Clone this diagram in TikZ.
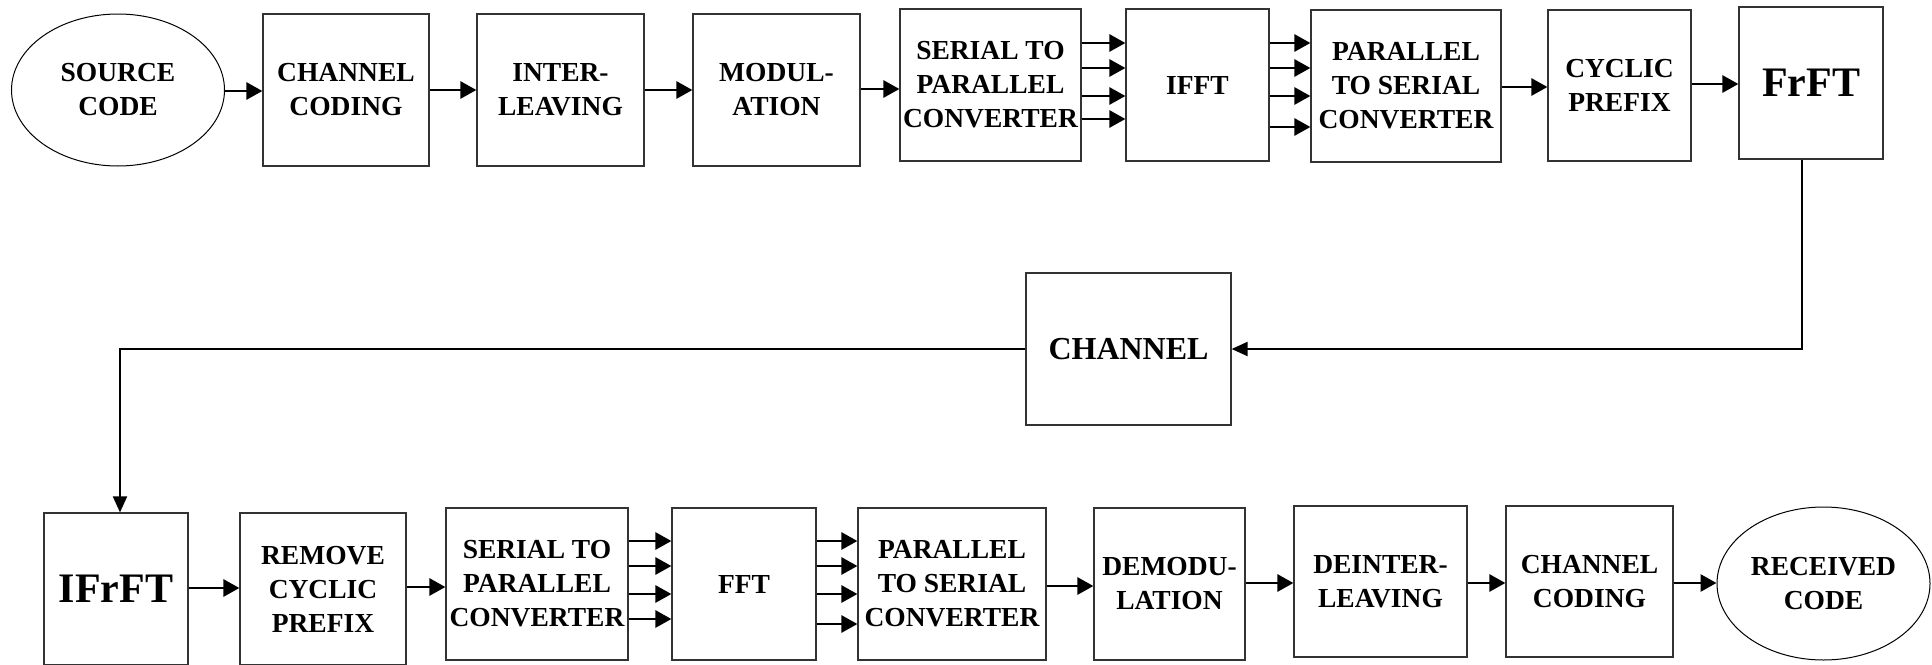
\documentclass[tikz,border=0pt]{standalone}
\usepackage{fontspec}
\setmainfont{Liberation Serif}
\usetikzlibrary{arrows.meta,shapes.geometric}
\begin{document}
\begin{tikzpicture}[x=0.5pt,y=-0.5pt,
  txt/.style={font=\fontsize{13.75}{17}\selectfont\bfseries},
  box/.style={txt,draw=black!80,line width=0.6pt,rectangle,minimum height=76pt,inner sep=1pt,align=center},
  oval/.style={txt,draw,ellipse,line width=0.5pt,inner sep=1pt,align=center,minimum width=106.5pt,minimum height=76pt},
  arr/.style={line width=1.4pt,-{Triangle[length=8pt,width=8.5pt]}},
  tarr/.style={line width=1pt,-{Triangle[length=8pt,width=7pt]}}]
\useasboundingbox (0,0) rectangle (1932,664);
% top row
\node[oval] (src) at (118,90) {SOURCE\\CODE};
\node[box,minimum width=83pt] (cc1) at (346,90) {CHANNEL\\CODING};
\node[box,minimum width=83.5pt] (il) at (560.5,90) {INTER-\\LEAVING};
\node[box,minimum width=83.5pt] (mod) at (776.5,90) {MODUL-\\ATION};
\node[box,minimum width=90.5pt] (sp1) at (990.5,85) {SERIAL TO\\PARALLEL\\CONVERTER};
\node[box,minimum width=71.5pt] (ifft) at (1197.5,85) {IFFT};
\node[box,minimum width=95pt] (ps1) at (1406,86) {PARALLEL\\TO SERIAL\\CONVERTER};
\node[box,minimum width=71.5pt,minimum height=75.5pt] (cp) at (1619.5,85.5) {CYCLIC\\PREFIX};
\node[box,minimum width=72pt,font=\fontsize{21}{25}\selectfont\bfseries] (frft) at (1811,83) {FrFT};
% middle
\node[box,minimum width=102.5pt,font=\fontsize{16}{19}\selectfont\bfseries] (chan) at (1128.5,349) {CHANNEL};
% bottom row
\node[box,minimum width=72pt,font=\fontsize{21}{25}\selectfont\bfseries] (ifrft) at (116,589) {IFrFT};
\node[box,minimum width=83pt] (rcp) at (323,589) {REMOVE\\CYCLIC\\PREFIX};
\node[box,minimum width=91pt] (sp2) at (537,584) {SERIAL TO\\PARALLEL\\CONVERTER};
\node[box,minimum width=72pt] (fft) at (744,584) {FFT};
\node[box,minimum width=94pt] (ps2) at (952,584) {PARALLEL\\TO SERIAL\\CONVERTER};
\node[box,minimum width=75.5pt] (dem) at (1169.5,584) {DEMODU-\\LATION};
\node[box,minimum width=86.5pt,minimum height=75.5pt] (dil) at (1380.5,581.5) {DEINTER-\\LEAVING};
\node[box,minimum width=83.5pt,minimum height=75.5pt] (cc2) at (1589.5,581.5) {CHANNEL\\CODING};
\node[oval,minimum height=76.5pt] (rec) at (1823.5,583.5) {RECEIVED\\CODE};
% top arrows
\draw[arr] (src.east |- 0,91) -- (cc1.west |- 0,91);
\draw[arr] (cc1.east |- 0,90) -- (il.west |- 0,90);
\draw[arr] (il.east |- 0,90) -- (mod.west |- 0,90);
\draw[arr] (mod.east |- 0,89) -- (sp1.west |- 0,89);
\foreach \yy in {43,68,96,119} \draw[arr] (sp1.east |- 0,\yy) -- (ifft.west |- 0,\yy);
\foreach \yy in {43,68,96,127} \draw[arr] (ifft.east |- 0,\yy) -- (ps1.west |- 0,\yy);
\draw[arr] (ps1.east |- 0,87) -- (cp.west |- 0,87);
\draw[arr] (cp.east |- 0,84) -- (frft.west |- 0,84);
% feedback path
\coordinate (cR) at (1802,349);
\coordinate (cL) at (120,349);
\draw[tarr] (frft.south -| cR) |- (chan.east);
\draw[tarr] (chan.west) -| (ifrft.north -| cL);
% bottom arrows
\draw[arr] (ifrft.east |- 0,588) -- (rcp.west |- 0,588);
\draw[arr] (rcp.east |- 0,587) -- (sp2.west |- 0,587);
\foreach \yy in {541,566,594,619} \draw[arr] (sp2.east |- 0,\yy) -- (fft.west |- 0,\yy);
\foreach \yy in {541,566,594,624} \draw[arr] (fft.east |- 0,\yy) -- (ps2.west |- 0,\yy);
\draw[arr] (ps2.east |- 0,586) -- (dem.west |- 0,586);
\draw[arr] (dem.east |- 0,583) -- (dil.west |- 0,583);
\draw[arr] (dil.east |- 0,583) -- (cc2.west |- 0,583);
\draw[arr] (cc2.east |- 0,583) -- (rec.west |- 0,583);
\end{tikzpicture}
\end{document}
